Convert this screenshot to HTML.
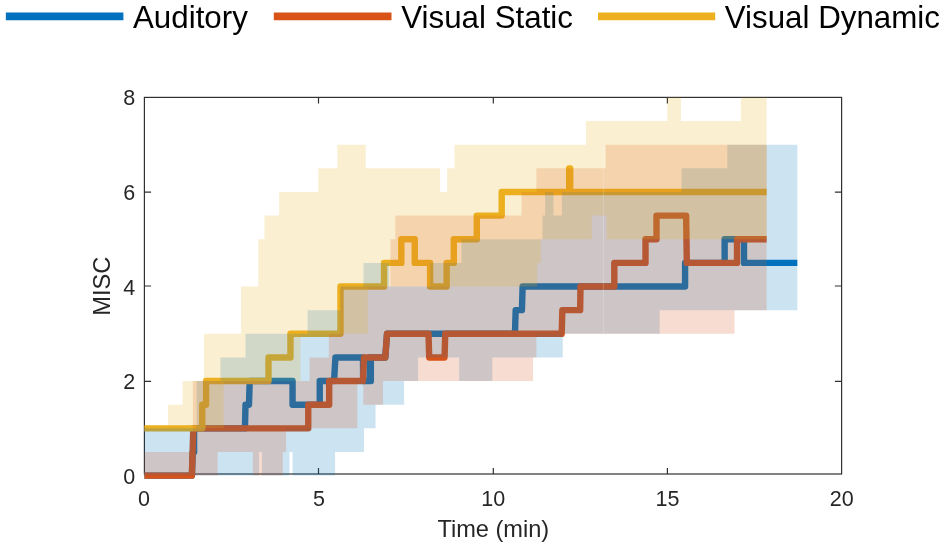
<!DOCTYPE html>
<html><head><meta charset="utf-8"><title>MISC over time</title>
<style>html,body{margin:0;padding:0;background:#fff}body{width:945px;height:548px;overflow:hidden}</style>
</head><body>
<svg width="945" height="548" viewBox="0 0 945 548" style="display:block;will-change:transform">
<rect width="945" height="548" fill="#fff"/>
<rect x="144.4" y="97.4" width="697.2" height="376.6" fill="none" stroke="#303030" stroke-width="1.2"/>
<path d="M318.5,474.0 v-6.0 M318.5,97.4 v6.0 M493.3,474.0 v-6.0 M493.3,97.4 v6.0 M667.4,474.0 v-6.0 M667.4,97.4 v6.0 M144.4,381.3 h6.7 M841.6,381.3 h-6.7 M144.4,286.0 h6.7 M841.6,286.0 h-6.7 M144.4,192.1 h6.7 M841.6,192.1 h-6.7" stroke="#303030" stroke-width="1.2" fill="none"/>
<path d="M144.4,475.6 L191.9,475.6 L192.79,451.97 L194.1,451.97 L194.1,428.33 L244.97,428.33 L245.49,404.7 L248.98,404.7 L249.68,381.06 L292.56,381.06 L292.56,404.7 L319.75,404.7 L319.75,381.06 L334.04,381.06 L335.43,357.43 L362.97,357.43 L363.15,381.06 L369.94,381.06 L369.94,357.43 L369.94,381.06 L370.85,381.06 L370.85,357.43 L385.28,357.43 L387.03,333.79 L514.96,333.79 L515.66,310.15 L521.93,310.15 L522.63,286.52 L685.08,286.52 L685.08,262.88 L724.64,262.88 L724.64,239.25 L743.99,239.25 L743.99,262.88 L797.33,262.88" fill="none" stroke="#0072BD" stroke-width="6.4" stroke-linejoin="round" stroke-linecap="butt"/>
<path d="M144.4,475.6 L191.88,475.6 L193.31,428.33 L308.24,428.33 L308.24,404.7 L329.16,404.7 L329.16,381.06 L362.97,381.06 L364.02,357.43 L385.28,357.43 L387.03,333.79 L428.51,333.79 L429.21,357.43 L444.54,357.43 L445.24,333.79 L561.67,333.79 L562.37,310.15 L580.15,310.15 L580.5,286.52 L614.31,286.52 L614.31,262.88 L645.51,262.88 L645.51,239.25 L656.49,239.25 L656.49,215.62 L686.12,215.62 L686.82,262.88 L737.02,262.88 L737.02,239.25 L766.65,239.25" fill="none" stroke="#D95319" stroke-width="6.4" stroke-linejoin="round" stroke-linecap="butt"/>
<path d="M144.4,428.33 L202.27,428.33 L202.27,404.7 L206.1,404.7 L206.1,381.06 L268.5,381.06 L268.5,357.43 L290.46,357.43 L290.46,333.79 L340.49,333.79 L340.49,286.52 L384.06,286.52 L384.06,262.88 L401.32,262.88 L401.32,239.25 L414.74,239.25 L414.74,262.88 L430.08,262.88 L430.08,286.52 L446.64,286.52 L446.64,262.88 L453.78,262.88 L453.78,239.25 L476.79,239.25 L476.79,215.62 L501.72,215.62 L501.72,191.98 L569.17,191.98 L569.17,168.35 L570.21,168.35 L570.21,191.98 L766.65,191.98" fill="none" stroke="#EDB120" stroke-width="6.4" stroke-linejoin="round" stroke-linecap="butt"/>
<path d="M144.4,428.33 L196.69,428.33 L196.69,381.06 L220.39,381.06 L220.39,357.43 L245.49,357.43 L245.49,333.79 L307.54,333.79 L307.54,310.15 L340.31,310.15 L340.31,286.52 L363.5,286.52 L363.5,262.88 L389.12,262.88 L389.12,286.52 L430.08,286.52 L430.08,262.88 L461.45,262.88 L461.45,239.25 L542.5,239.25 L542.5,215.62 L545.12,215.62 L545.12,191.98 L553.48,191.98 L553.48,215.62 L561.85,215.62 L561.85,191.98 L681.59,191.98 L681.59,168.35 L727.26,168.35 L727.26,144.71 L797.33,144.71 L797.33,310.15 L659.63,310.15 L659.63,333.79 L562.72,333.79 L562.72,357.43 L492.3,357.43 L492.3,381.06 L459.19,381.06 L459.19,357.43 L418.05,357.43 L418.05,381.06 L404.11,381.06 L404.11,404.7 L375.52,404.7 L375.52,428.33 L364.02,428.33 L364.02,451.97 L335.08,451.97 L335.08,475.6 L292.56,475.6 L292.56,451.97 L289.42,451.97 L289.42,475.6 L261.88,475.6 L261.88,451.97 L259.09,451.97 L259.09,475.6 L144.4,475.6Z" fill="#0072BD" fill-opacity="0.2"/>
<path d="M144.4,451.97 L192.86,451.97 L192.86,381.06 L309.64,381.06 L309.64,357.43 L328.81,357.43 L328.81,333.79 L340.31,333.79 L340.31,286.52 L390.34,286.52 L390.34,239.25 L395.39,239.25 L395.39,215.62 L521.59,215.62 L521.59,191.98 L536.4,191.98 L536.4,168.35 L605.6,168.35 L605.6,144.71 L766.65,144.71 L766.65,310.15 L734.58,310.15 L734.58,333.79 L536.4,333.79 L536.4,357.43 L533.09,357.43 L533.09,381.06 L383.02,381.06 L383.02,404.7 L363.32,404.7 L363.32,381.06 L357.39,381.06 L357.39,428.33 L286.11,428.33 L286.11,451.97 L282.79,451.97 L282.79,475.6 L252.81,475.6 L252.81,451.97 L217.61,451.97 L217.61,475.6 L144.4,475.6Z" fill="#D95319" fill-opacity="0.2"/>
<path d="M144.4,428.33 L168.1,428.33 L168.1,404.7 L182.57,404.7 L182.57,381.06 L203.91,381.06 L203.91,333.79 L240.96,333.79 L240.96,286.52 L258.22,286.52 L258.22,239.25 L264.49,239.25 L264.49,215.62 L279.13,215.62 L279.13,191.98 L318.35,191.98 L318.35,168.35 L337.35,168.35 L337.35,144.71 L365.76,144.71 L365.76,168.35 L440.19,168.35 L440.19,191.98 L447.16,191.98 L447.16,168.35 L454.48,168.35 L454.48,144.71 L586.08,144.71 L586.08,121.07 L667.3,121.07 L667.3,97.44 L680.9,97.44 L680.9,121.07 L740.85,121.07 L740.85,97.44 L766.65,97.44 L766.65,239.25 L606.64,239.25 L606.64,215.62 L591.83,215.62 L591.83,239.25 L540.76,239.25 L540.76,262.88 L537.1,262.88 L537.1,286.52 L367.85,286.52 L367.85,333.79 L300.57,333.79 L300.57,381.06 L223.71,381.06 L223.71,428.33 L144.4,428.33Z" fill="#EDB120" fill-opacity="0.2"/>
<line x1="603.4" x2="603.4" y1="121.07" y2="144.71" stroke="#fff" stroke-opacity="0.08" stroke-width="1"/>
<line x1="603.4" x2="603.4" y1="144.71" y2="333.79" stroke="#fff" stroke-opacity="0.2" stroke-width="1"/>
<text x="143.9" y="505.7" text-anchor="middle" font-size="21.5" fill="#262626" font-family="Liberation Sans, Arial, Helvetica, sans-serif">0</text>
<text x="318.9" y="505.7" text-anchor="middle" font-size="21.5" fill="#262626" font-family="Liberation Sans, Arial, Helvetica, sans-serif">5</text>
<text x="493.2" y="505.7" text-anchor="middle" font-size="21.5" fill="#262626" font-family="Liberation Sans, Arial, Helvetica, sans-serif">10</text>
<text x="667.5" y="505.7" text-anchor="middle" font-size="21.5" fill="#262626" font-family="Liberation Sans, Arial, Helvetica, sans-serif">15</text>
<text x="841.8000000000001" y="505.7" text-anchor="middle" font-size="21.5" fill="#262626" font-family="Liberation Sans, Arial, Helvetica, sans-serif">20</text>
<text x="135.3" y="483.75" text-anchor="end" font-size="21.5" fill="#262626" font-family="Liberation Sans, Arial, Helvetica, sans-serif">0</text>
<text x="135.3" y="389.15" text-anchor="end" font-size="21.5" fill="#262626" font-family="Liberation Sans, Arial, Helvetica, sans-serif">2</text>
<text x="135.3" y="294.55" text-anchor="end" font-size="21.5" fill="#262626" font-family="Liberation Sans, Arial, Helvetica, sans-serif">4</text>
<text x="135.3" y="199.95" text-anchor="end" font-size="21.5" fill="#262626" font-family="Liberation Sans, Arial, Helvetica, sans-serif">6</text>
<text x="135.3" y="105.35" text-anchor="end" font-size="21.5" fill="#262626" font-family="Liberation Sans, Arial, Helvetica, sans-serif">8</text>
<text x="493.3" y="536.5" text-anchor="middle" font-size="23.6" fill="#262626" font-family="Liberation Sans, Arial, Helvetica, sans-serif">Time (min)</text>
<text transform="translate(110.2,286.2) rotate(-90)" text-anchor="middle" font-size="23.6" fill="#262626" font-family="Liberation Sans, Arial, Helvetica, sans-serif">MISC</text>
<line x1="5.85" x2="123.4" y1="16.4" y2="16.4" stroke="#0072BD" stroke-width="7.9"/>
<text x="133.0" y="27.9" font-size="31.3" fill="#000" font-family="Liberation Sans, Arial, Helvetica, sans-serif">Auditory</text>
<line x1="273.8" x2="391.5" y1="16.4" y2="16.4" stroke="#D95319" stroke-width="7.9"/>
<text x="401.3" y="27.9" font-size="31.3" fill="#000" font-family="Liberation Sans, Arial, Helvetica, sans-serif">Visual Static</text>
<line x1="598.0" x2="715.2" y1="16.4" y2="16.4" stroke="#EDB120" stroke-width="7.9"/>
<text x="724.8" y="27.9" font-size="31.3" fill="#000" font-family="Liberation Sans, Arial, Helvetica, sans-serif">Visual Dynamic</text>
</svg>
</body></html>
